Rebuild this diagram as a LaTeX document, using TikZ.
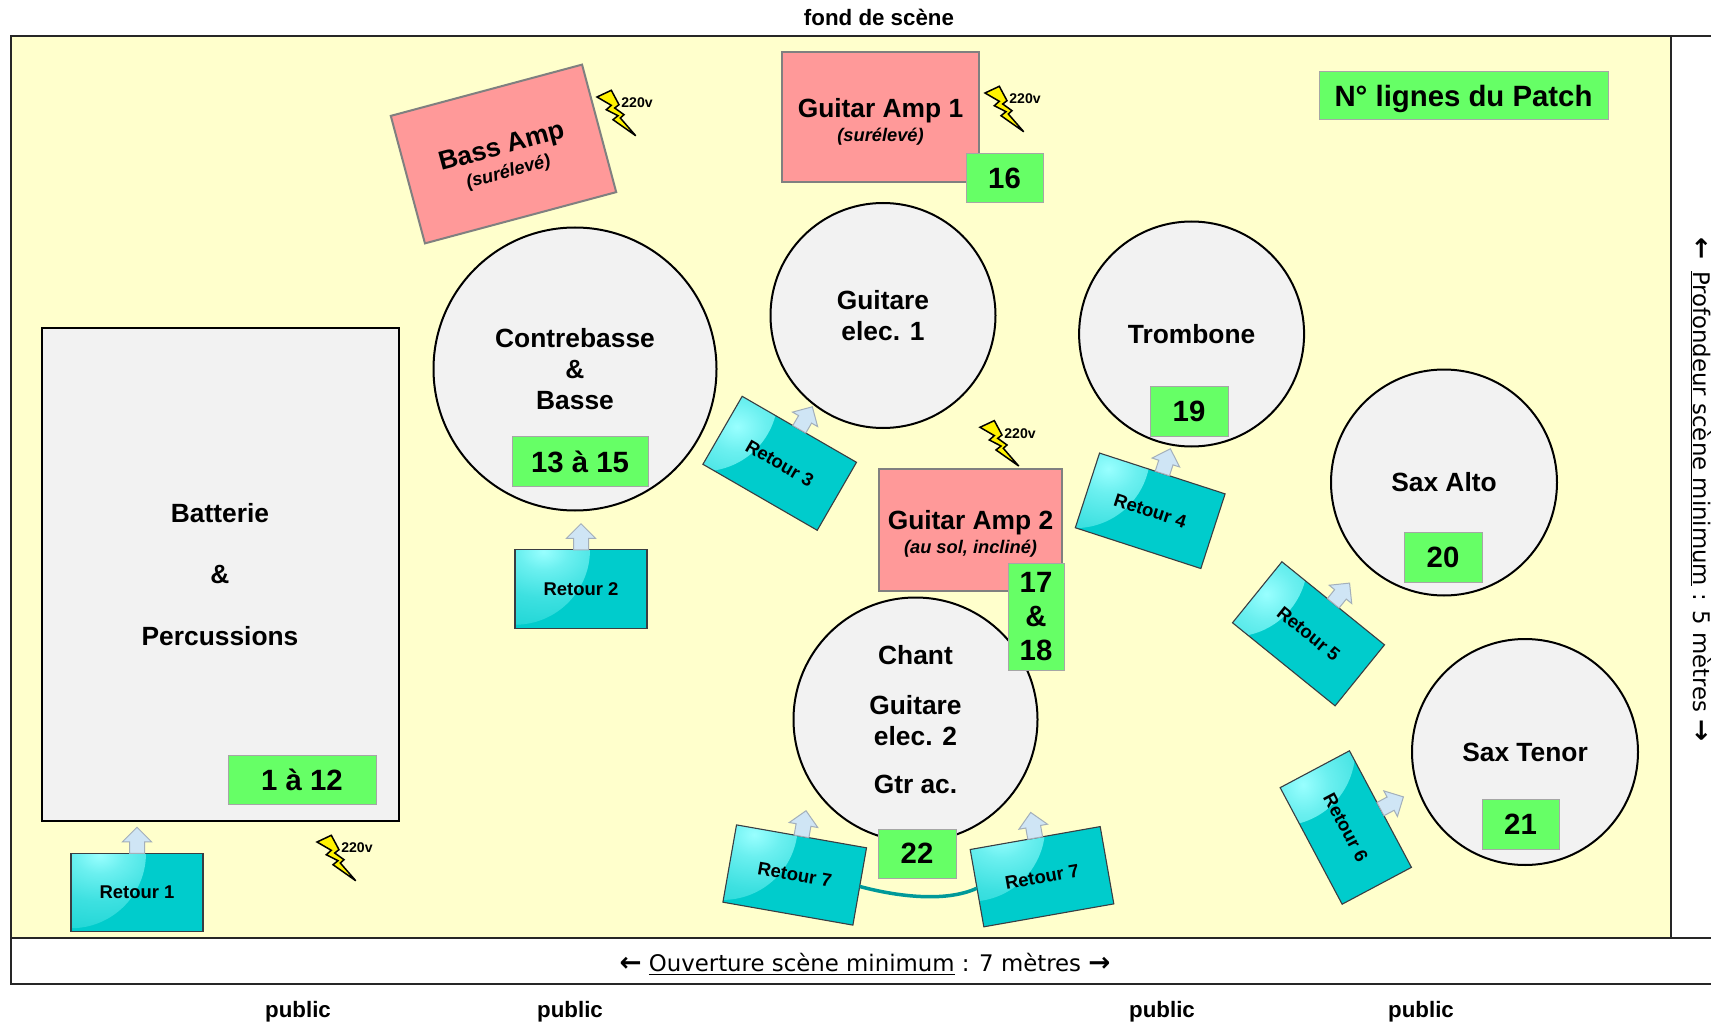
\documentclass[tikz,border=0pt]{standalone}
\usepackage{fontspec}
\setmainfont{Liberation Sans}
\newfontfamily\verdana{DejaVu Sans}
\usepackage{xcolor}
\usepackage{tikz}
\usetikzlibrary{shapes.arrows}
\definecolor{scene}{HTML}{FFFFCC}
\definecolor{gris}{HTML}{F2F2F2}
\definecolor{ampli}{HTML}{FF9999}
\definecolor{patch}{HTML}{66FF66}
\definecolor{retourfond}{HTML}{00CCCC}
\definecolor{flechefond}{HTML}{CFE5F5}
\definecolor{flechebord}{HTML}{A3AFBA}
\definecolor{cable}{HTML}{009999}
\pgfdeclareradialshading{lueur}{\pgfpoint{0bp}{0bp}}{rgb(0bp)=(0.6,1,1); rgb(6bp)=(0.42,0.94,0.94); rgb(15bp)=(0.24,0.88,0.88); rgb(25bp)=(0.13,0.84,0.84); rgb(36bp)=(0.06,0.82,0.82); rgb(50bp)=(0.06,0.82,0.82)}
\def\px{0.02cm}
\newcommand{\soustitre}[1]{{\fontsize{10.4}{13.5}\selectfont\itshape #1}}
\newcommand{\sens}[1]{{\fontsize{15}{15}\selectfont\textbf{#1}}}
\newcommand{\cale}{\rule{0pt}{16pt}}

\begin{document}
\begin{tikzpicture}
    [
    x=0.02cm, y=-0.02cm,
    every node/.style={inner sep=0pt, outer sep=0pt, align=center},
    cadre/.style={draw=black!85, line width=2*\px},
    musicien/.style={circle, draw=black, line width=2*\px, fill=gris, font=\fontsize{15}{17.6}\selectfont\bfseries},
    amp/.style={rectangle, draw=black!50, line width=2*\px, fill=ampli, font=\fontsize{15}{13.5}\selectfont\bfseries},
    badge/.style={rectangle, draw=black!35, line width=1*\px, fill=patch, font=\fontsize{16.7}{19.5}\selectfont\bfseries},
    titre/.style={font=\fontsize{12.7}{15}\selectfont\bfseries},
    mesure/.style={font=\fontsize{13}{15}\selectfont\verdana},
    retour/.style={rectangle, draw=black!85!cyan, line width=1.1*\px, fill=retourfond,
        minimum width=132*\px, minimum height=78.5*\px, font=\fontsize{10.5}{14}\selectfont\bfseries,
        path picture={\shade[shading=lueur] (path picture bounding box.north west) circle (75*\px);}},
    fleche/.style={single arrow, anchor=tail, draw=flechebord, line width=1*\px, fill=flechefond, inner ysep=7*\px,
        minimum height=26*\px, minimum width=28*\px, single arrow head extend=7*\px, single arrow tip angle=90},
    eclair/.pic={
        \draw[line width=1.5*\px, fill=yellow, miter limit=6] (0,0) -- (14.3,-6.7) -- (22,7.7) -- (17.7,11) -- (27,17.7) -- (23.3,21)
            -- (38.7,38.7) -- (16,22.7) -- (21,18.7) -- (9.3,12.7) -- (14.3,8.3) -- cycle;
        \node[font=\fontsize{8}{10}\selectfont\bfseries] (-tension) at (40,6) {220v};
    },
    ]
    \useasboundingbox (0,0) rectangle (1711,1027);
    % scene et cotes
    \node[rectangle, cadre, fill=scene, minimum width=1660*\px, minimum height=902*\px] (scene) at (841,487) {};
    \coordinate (bordhaut) at (1711,36);
    \coordinate (bordmilieu) at (1711,938);
    \coordinate (bordbas) at (1711,984);
    \draw[cadre] (scene.north east) -- (bordhaut);
    \draw[cadre] (scene.south east) -- (bordmilieu);
    \draw[cadre] (scene.south west) |- (bordbas);
    \node[titre] (fond) at (879,17.5) {fond de scène};
    \node[mesure] (ouverture) at (865,964) {\sens{←} \underline{Ouverture scène minimum} : 7 mètres \sens{→}};
    \node[mesure, rotate=-90] (profondeur) at (1701,490) {\sens{←}\ \,\underline{Profondeur scène minimum} : 5 mètres \sens{→}};
    \node[titre] (public1) at (298,1012) {public};
    \node[titre] (public2) at (570,1012) {public};
    \node[titre] (public3) at (1162,1012) {public};
    \node[titre] (public4) at (1421,1012) {public};

    % ampli
    \node[amp, rotate=15, minimum width=198*\px, minimum height=132*\px] (bassamp) at (503.5,154) {\cale Bass Amp\\\soustitre{(surélevé)}};
    \node[amp, minimum width=197*\px, minimum height=130*\px] (guitaramp1) at (880.5,117) {\cale Guitar Amp 1\\\soustitre{(surélevé)}};
    \node[amp, minimum width=183*\px, minimum height=122*\px] (guitaramp2) at (970.5,529.5) {\cale Guitar Amp 2\\\soustitre{(au sol, incliné)}};
    \pic (elecbasse) at (597,97) {eclair};
    \pic (elecamp1) at (985,93) {eclair};
    \pic (elecamp2) at (980,427.3) {eclair};
    \pic (elecbatterie) at (317,842) {eclair};

    % musiciens
    \node[rectangle, draw=black, line width=2*\px, fill=gris, minimum width=357*\px, minimum height=493*\px, font=\fontsize{15}{17.3}\selectfont\bfseries] (batterie) at (220,574.5) {Batterie\\[17.8pt]\&\\[17.8pt]Percussions};
    \node[musicien, minimum size=283*\px] (contrebasse) at (575,369) {Contrebasse\\\&\\Basse};
    \node[musicien, minimum size=225*\px] (guitare1) at (883,315.5) {Guitare\\elec. 1};
    \node[musicien, minimum size=225*\px] (trombone) at (1191.6,334) {Trombone};
    \node[musicien, minimum size=226*\px] (saxalto) at (1444,482.5) {Sax Alto};
    \node[musicien, minimum size=226*\px] (saxtenor) at (1525,752) {Sax Tenor};
    \node[musicien, minimum size=244*\px] (chant) at (915.5,719.5) {Chant\\[11pt]Guitare\\elec. 2\\[10pt]Gtr ac.};

    % lignes du patch
    \node[badge, text depth=0pt, minimum width=289*\px, minimum height=48*\px] (legende) at (1463.5,96) {N° lignes du Patch};
    \node[badge, minimum width=148*\px, minimum height=49*\px] (patch1) at (302,779.5) {1 à 12};
    \node[badge, minimum width=136*\px, minimum height=50*\px] (patch13) at (580,461.5) {13 à 15};
    \node[badge, minimum width=77*\px, minimum height=49*\px] (patch16) at (1004.5,178.5) {16};
    \node[badge, minimum width=56*\px, minimum height=107*\px] (patch17) at (1036,616.5) {17\\\&\\18};
    \node[badge, minimum width=78*\px, minimum height=50*\px] (patch19) at (1189,411) {19};
    \node[badge, minimum width=78*\px, minimum height=50*\px] (patch20) at (1443,557) {20};
    \node[badge, minimum width=77*\px, minimum height=50*\px] (patch21) at (1520.5,824) {21};
    \node[badge, minimum width=78*\px, minimum height=49*\px] (patch22) at (917,853.5) {22};

    % retours
    \node[retour] (retour1) at (137,892.5) {Retour 1};
    \node[retour] (retour2) at (581,589) {Retour 2};
    \node[retour, rotate=-30] (retour3) at (779.7,463.3) {Retour 3};
    \node[retour, rotate=-18] (retour4) at (1150.2,510.8) {Retour 4};
    \node[retour, rotate=-39] (retour5) at (1308.5,633.8) {Retour 5};
    \node[retour, rotate=-62] (retour6) at (1345.8,827.5) {Retour 6};
    \node[retour, rotate=-10] (retour7a) at (794.7,875) {Retour 7};
    \node[retour, rotate=10] (retour7b) at (1042,876.7) {Retour 7};
    \node[fleche, rotate=90] (fleche1) at (retour1.north) {};
    \node[fleche, rotate=90] (fleche2) at (retour2.north) {};
    \node[fleche, rotate=60] (fleche3) at (retour3.north) {};
    \node[fleche, rotate=72] (fleche4) at (retour4.north) {};
    \node[fleche, rotate=51] (fleche5) at (retour5.north) {};
    \node[fleche, rotate=28] (fleche6) at (retour6.north) {};
    \node[fleche, rotate=80] (fleche7a) at (retour7a.north) {};
    \node[fleche, rotate=100] (fleche7b) at (retour7b.north) {};
    \draw[cable, line width=3.5*\px] (retour7a.east) .. controls (895,896) and (945,903) .. (retour7b.west);
\end{tikzpicture}
\end{document}
